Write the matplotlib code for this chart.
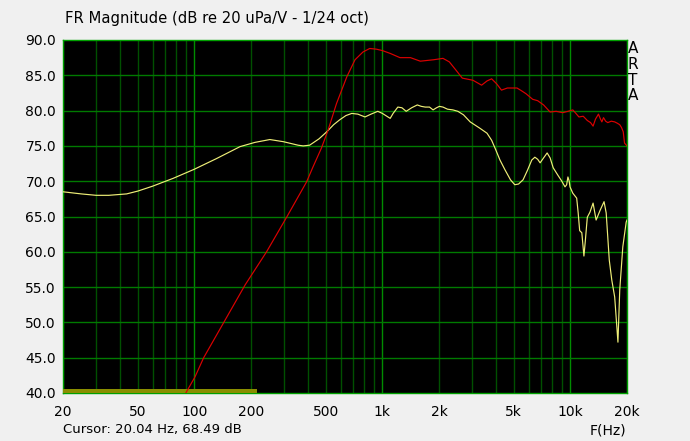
import matplotlib
matplotlib.use("Agg")
import matplotlib.pyplot as plt
from matplotlib.ticker import FixedLocator, NullLocator

# yellow trace (freq Hz, dB)
yel_f = [20, 25, 30, 35, 43.6, 50, 60, 77, 100, 131, 175, 210, 252, 297, 356, 379,
         410, 460, 506, 550, 593, 640, 687, 740, 808, 870, 945, 1000, 1100, 1140, 1208,
         1270, 1338, 1430, 1533, 1610, 1690, 1780, 1860, 1940, 2010, 2100, 2220, 2370,
         2520, 2700, 2930, 3300, 3600, 3810, 4000, 4220, 4490, 4800, 5060, 5300, 5600,
         5900, 6230, 6470, 6700, 6900, 7200, 7520, 7800, 8100, 8600, 9000, 9360, 9550,
         9700, 9850, 9950, 10300, 10800, 11000, 11200, 11500, 11800, 12000, 12300,
         12700, 13200, 13700, 14400, 15100, 15500, 16100, 16600, 17200, 17900, 18300,
         19000, 19800, 20000]
yel_db = [68.5, 68.2, 68.0, 68.0, 68.2, 68.6, 69.3, 70.4, 71.7, 73.2, 74.9, 75.5, 75.9,
          75.6, 75.1, 75.0, 75.1, 76.0, 77.0, 78.0, 78.7, 79.3, 79.6, 79.5, 79.1, 79.5,
          79.9, 79.6, 78.9, 79.6, 80.5, 80.4, 79.9, 80.4, 80.8, 80.6, 80.5, 80.5, 80.1,
          80.4, 80.6, 80.5, 80.2, 80.1, 79.9, 79.4, 78.4, 77.5, 76.8, 75.8, 74.5, 73.0,
          71.6, 70.2, 69.5, 69.6, 70.2, 71.5, 73.0, 73.4, 73.1, 72.6, 73.3, 74.0, 73.3,
          71.9, 70.8, 70.0, 69.2, 69.5, 70.6, 70.0, 69.2, 68.3, 67.6, 65.5, 63.0, 62.7,
          59.4, 61.5, 64.9, 65.6, 66.9, 64.5, 65.9, 67.1, 65.5, 58.8, 56.0, 53.6, 47.2,
          54.6, 60.7, 64.2, 64.5]

# red trace
red_f = [90, 100.8, 112, 142.6, 186, 242, 311, 395, 427, 474, 515, 570, 647, 715, 788,
         856, 929, 1000, 1100, 1240, 1410, 1590, 1870, 2100, 2270, 2450, 2660, 3030,
         3370, 3600, 3810, 4050, 4300, 4620, 5200, 5500, 5800, 6300, 6700, 7200, 7800,
         8400, 9100, 9700, 10300, 10700, 11100, 11700, 12300, 12800, 13200, 13600, 14100,
         14400, 14700, 15000, 15400, 15800, 16500, 17200, 17800, 18300, 18700, 19100,
         19400, 20000]
red_db = [40.0, 42.3, 45.0, 49.9, 55.3, 60.0, 65.0, 69.9, 72.0, 74.7, 77.3, 81.0, 84.8,
          87.2, 88.3, 88.8, 88.7, 88.5, 88.1, 87.5, 87.5, 87.0, 87.2, 87.4, 86.9,
          85.8, 84.6, 84.3, 83.6, 84.2, 84.5, 83.8, 82.9, 83.2, 83.2, 82.8, 82.4, 81.6,
          81.4, 80.8, 79.8, 79.9, 79.7, 79.9, 80.1, 79.6, 79.1, 79.2, 78.6, 78.3, 77.8,
          78.8, 79.5, 78.9, 78.4, 79.0, 78.5, 78.3, 78.5, 78.4, 78.2, 78.0, 77.6, 77.0,
          75.4, 75.0]

# olive range bar along the bottom
bar_f = [20, 214]
bar_db = [40.07, 40.5]

xtick_vals = [20, 50, 100, 200, 500, 1000, 2000, 5000, 10000, 20000]
xtick_labels = ['20', '50', '100', '200', '500', '1k', '2k', '5k', '10k', '20k']
ytick_vals = [40, 45, 50, 55, 60, 65, 70, 75, 80, 85, 90]
grid_minor = [d * m for m in (10, 100, 1000) for d in range(2, 10)] + [20000]
grid_major = [100, 1000, 10000]

plt.rcParams['font.family'] = ['DejaVu Sans']

fig = plt.figure(figsize=(6.9, 4.41), dpi=100, facecolor='#f0f0f0')
ax = fig.add_axes([63 / 690, 48 / 441, 564 / 690, 353 / 441])
ax.set_facecolor('black')

ax.set_xscale('log')
ax.set_xlim(20, 20000)
ax.set_ylim(40, 90)

for f in grid_minor:
    ax.axvline(f, color='#005000', lw=1.0, zorder=1)
for f in grid_major:
    ax.axvline(f, color='#008c00', lw=1.0, zorder=1)
for v in ytick_vals[1:-1]:
    ax.axhline(v, color='#007a00', lw=1.0, zorder=1)

ax.fill_between(bar_f, bar_db[0], bar_db[1], color='#8a8e00', lw=0, zorder=3)

ax.plot(yel_f, yel_db, color='#eeee77', lw=0.85, zorder=4)
ax.plot(red_f, red_db, color='#dd0000', lw=0.85, zorder=5)

ax.xaxis.set_major_locator(FixedLocator(xtick_vals))
ax.xaxis.set_minor_locator(NullLocator())
ax.set_xticklabels(xtick_labels)
ax.set_yticks(ytick_vals)
ax.set_yticklabels(['%.1f' % v for v in ytick_vals])
ax.tick_params(length=0, labelsize=10, colors='black', pad=5)
ax.tick_params(axis='x', pad=9)

for s in ax.spines.values():
    s.set_color('#00a000')
    s.set_linewidth(1.0)

fig.text(65 / 690, 1 - 18 / 441, 'FR Magnitude (dB re 20 uPa/V - 1/24 oct)',
         fontsize=10.6, va='center', ha='left')
for i, ch in enumerate('ARTA'):
    fig.text(633 / 690, 1 - (48.5 + 15.8 * i) / 441, ch, fontsize=11,
             ha='center', va='center')
fig.text(63 / 690, 1 - 430 / 441, 'Cursor: 20.04 Hz, 68.49 dB', fontsize=9.5,
         va='center', ha='left')
fig.text(626 / 690, 1 - 430 / 441, 'F(Hz)', fontsize=10, va='center', ha='right')

fig.savefig('out.png', dpi=100, facecolor=fig.get_facecolor())
